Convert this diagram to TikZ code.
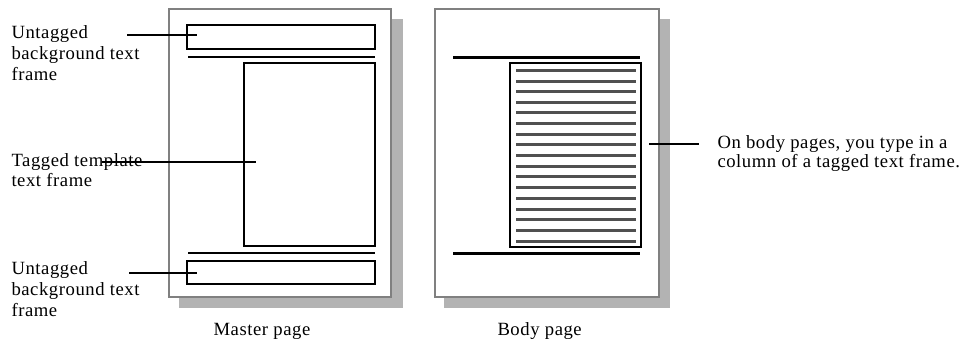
\documentclass[tikz,border=0pt]{standalone}
\usepackage{fontspec}
\setmainfont{Liberation Serif}[LetterSpace=3.0]
\usetikzlibrary{positioning}

\definecolor{shadowgray}{HTML}{B3B3B3}
\definecolor{bordergray}{HTML}{808080}
\definecolor{rulegray}{HTML}{505050}

\tikzset{every picture/.style={line width=0.75pt}}
\tikzset{
  pageshadow/.style={fill=shadowgray, draw=none},
  pagesheet/.style={fill=white, draw=bordergray, line width=1.5pt},
  framebox/.style={draw=black, line width=1pt},
  thinrule/.style={draw=black, line width=1pt},
  thickrule/.style={draw=black, line width=2.25pt},
  textrule/.style={draw=rulegray, line width=2.25pt},
  leader/.style={draw=black, line width=1.5pt},
  callout/.style={anchor=base west, inner sep=0pt, align=left},
}

\begin{document}
\begin{tikzpicture}[x=0.75pt,y=0.75pt,yscale=-1,xscale=1]
	\useasboundingbox (0,0) rectangle (972,340);

	%Shape: Rectangle [id:master-shadow]
	\draw [pageshadow] (179,19) -- (403,19) -- (403,308) -- (179,308) -- cycle ;
	%Shape: Rectangle [id:master-sheet]
	\draw [pagesheet] (169,9) -- (391,9) -- (391,297) -- (169,297) -- cycle ;
	%Shape: Rectangle [id:master-top-frame]
	\draw [framebox] (187,25) -- (375,25) -- (375,49) -- (187,49) -- cycle ;
	%Straight Lines [id:master-top-rule]
	\draw [thinrule] (188,57) -- (375,57) ;
	%Shape: Rectangle [id:master-template-frame]
	\draw [framebox] (244,63) -- (375,63) -- (375,246) -- (244,246) -- cycle ;
	%Straight Lines [id:master-bottom-rule]
	\draw [thinrule] (188,253) -- (375,253) ;
	%Shape: Rectangle [id:master-bottom-frame]
	\draw [framebox] (187,261) -- (375,261) -- (375,284) -- (187,284) -- cycle ;

	%Shape: Rectangle [id:body-shadow]
	\draw [pageshadow] (444,19) -- (670,19) -- (670,308) -- (444,308) -- cycle ;
	%Shape: Rectangle [id:body-sheet]
	\draw [pagesheet] (435,9) -- (659,9) -- (659,297) -- (435,297) -- cycle ;
	%Straight Lines [id:body-top-rule]
	\draw [thickrule] (453,57) -- (640,57) ;
	%Shape: Rectangle [id:body-column-frame]
	\draw [framebox] (510,63) -- (641,63) -- (641,247) -- (510,247) -- cycle ;
	%Straight Lines [id:body-bottom-rule]
	\draw [thickrule] (453,253) -- (640,253) ;

	%Straight Lines [id:body-text-lines]
	\draw [textrule] (516,70.3) -- (636,70.3) ;
	\draw [textrule] (516,81) -- (636,81) ;
	\draw [textrule] (516,91.4) -- (636,91.4) ;
	\draw [textrule] (516,102.2) -- (636,102.2) ;
	\draw [textrule] (516,112.9) -- (636,112.9) ;
	\draw [textrule] (516,123.4) -- (636,123.4) ;
	\draw [textrule] (516,134.2) -- (636,134.2) ;
	\draw [textrule] (516,144.9) -- (636,144.9) ;
	\draw [textrule] (516,155.4) -- (636,155.4) ;
	\draw [textrule] (516,166.1) -- (636,166.1) ;
	\draw [textrule] (516,176.9) -- (636,176.9) ;
	\draw [textrule] (516,187.5) -- (636,187.5) ;
	\draw [textrule] (516,198.3) -- (636,198.3) ;
	\draw [textrule] (516,209) -- (636,209) ;
	\draw [textrule] (516,219.5) -- (636,219.5) ;
	\draw [textrule] (516,230.2) -- (636,230.2) ;
	\draw [textrule] (516,241) -- (636,241) ;

	% Text Node
	\node (untaggedtop) [callout, font={\fontsize{14pt}{15.75pt}\selectfont}] at (11,80) {Untagged\\background text\\frame};
	% Text Node
	\node (tagged) [callout, font={\fontsize{14pt}{14.6pt}\selectfont}] at (11,186) {Tagged template\\text frame};
	% Text Node
	\node (untaggedbottom) [callout, font={\fontsize{14pt}{15.75pt}\selectfont}] at (11,316) {Untagged\\background text\\frame};
	% Text Node
	\node (bodynote) [callout, font={\fontsize{14pt}{13.9pt}\selectfont}] at (717,167) {On body pages, you type in a\\column of a tagged text frame.};
	% Text Node
	\node (mastername) [callout, font={\fontsize{14pt}{15pt}\selectfont}] at (213,335) {Master page};
	% Text Node
	\node (bodyname) [callout, font={\fontsize{14pt}{15pt}\selectfont}] at (497,335) {Body page};

	% Leader ends
	\coordinate (untaggedtop-from) at (127,35) ;
	\coordinate (untaggedtop-to) at (197,35) ;
	\coordinate (tagged-from) at (102,162) ;
	\coordinate (tagged-to) at (256,162) ;
	\coordinate (untaggedbottom-from) at (129,273) ;
	\coordinate (untaggedbottom-to) at (197,273) ;
	\coordinate (bodynote-from) at (649,144) ;
	\coordinate (bodynote-to) at (699,144) ;

	%Straight Lines [id:leaders]
	\draw [leader] (untaggedtop-from) -- (untaggedtop-to) ;
	\draw [leader] (tagged-from) -- (tagged-to) ;
	\draw [leader] (untaggedbottom-from) -- (untaggedbottom-to) ;
	\draw [leader] (bodynote-from) -- (bodynote-to) ;

\end{tikzpicture}
\end{document}
